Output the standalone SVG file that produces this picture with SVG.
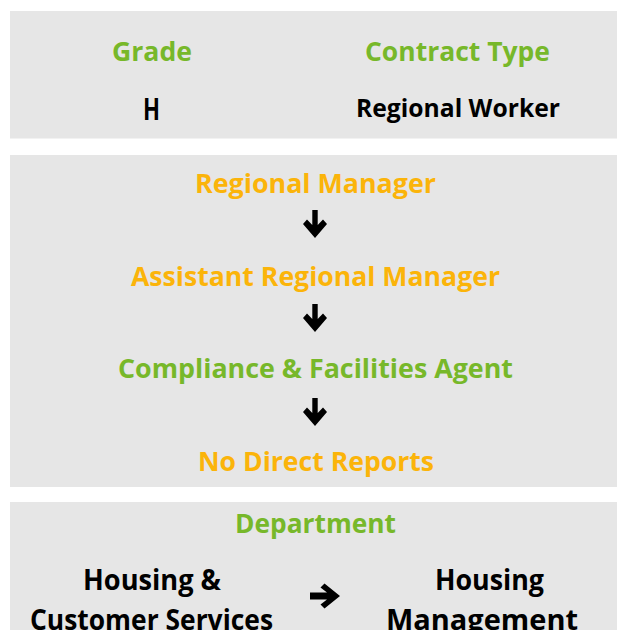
<svg xmlns="http://www.w3.org/2000/svg" width="617" height="630" viewBox="0 0 617 630">
<style>
.box{fill:#e6e6e6}
text{font-family:"Open Sans",Lato,"Liberation Sans",sans-serif;font-weight:bold;font-size:27.5px;text-anchor:middle}
.g{fill:#77b82a}
.o{fill:#fbb40a}
.k{fill:#000}
.big{font-size:29px}
.arr{fill:#000}
</style>
<rect width="617" height="630" fill="#fff"/>
<g id="info">
<rect class="box" x="10" y="11" width="607" height="127.5"/>
<text class="g" x="152" y="60.5" textLength="80" lengthAdjust="spacingAndGlyphs">Grade</text>
<text class="g" x="457.5" y="60.5" textLength="185" lengthAdjust="spacingAndGlyphs">Contract Type</text>
<text class="k" x="151.5" y="119.5" textLength="17" lengthAdjust="spacingAndGlyphs" style="font-size:30px">H</text>
<text class="k" x="458" y="117" textLength="204" lengthAdjust="spacingAndGlyphs" style="font-size:25px">Regional Worker</text>
</g>
<g id="hierarchy">
<rect class="box" x="10" y="155" width="607" height="332"/>
<g id="regional-manager"><text class="o" x="315.5" y="193" textLength="241" lengthAdjust="spacingAndGlyphs">Regional Manager</text></g>
<g id="assistant-regional-manager"><text class="o" x="315.5" y="286" textLength="369" lengthAdjust="spacingAndGlyphs">Assistant Regional Manager</text></g>
<g id="compliance-agent"><text class="g" x="315.5" y="378" textLength="395" lengthAdjust="spacingAndGlyphs">Compliance &amp; Facilities Agent</text></g>
<g id="no-direct-reports"><text class="o" x="316" y="471" textLength="236" lengthAdjust="spacingAndGlyphs">No Direct Reports</text></g>
</g>
<g id="department">
<rect class="box" x="10" y="502" width="607" height="128"/>
<text class="g" x="315.5" y="533" textLength="161" lengthAdjust="spacingAndGlyphs" style="font-size:26px">Department</text>
<g id="dept-from">
<text class="k big" x="152" y="589.5" textLength="138" lengthAdjust="spacingAndGlyphs">Housing &amp;</text>
<text class="k big" x="151.5" y="629.5" textLength="243" lengthAdjust="spacingAndGlyphs">Customer Services</text>
</g>
<g id="dept-to">
<text class="k big" x="489.5" y="589.5" textLength="109" lengthAdjust="spacingAndGlyphs">Housing</text>
<text class="k big" x="482" y="629.5" textLength="192" lengthAdjust="spacingAndGlyphs">Management</text>
</g>
</g>
<g id="connectors">
<defs>
<polygon id="down" points="-2.7,0 2.7,0 2.7,15 8,9.5 12,14 0,28 -12,14 -8,9.5 -2.7,15"/>
</defs>
<use href="#down" class="arr" x="315" y="210"/>
<use href="#down" class="arr" x="315" y="304"/>
<use href="#down" class="arr" x="315" y="398"/>
<polygon class="arr" points="310,592.5 327,592.5 320.5,587.5 324.5,583.5 340,596 324.5,608.5 320.5,604.5 327,599.5 310,599.5"/>
</g>
</svg>
